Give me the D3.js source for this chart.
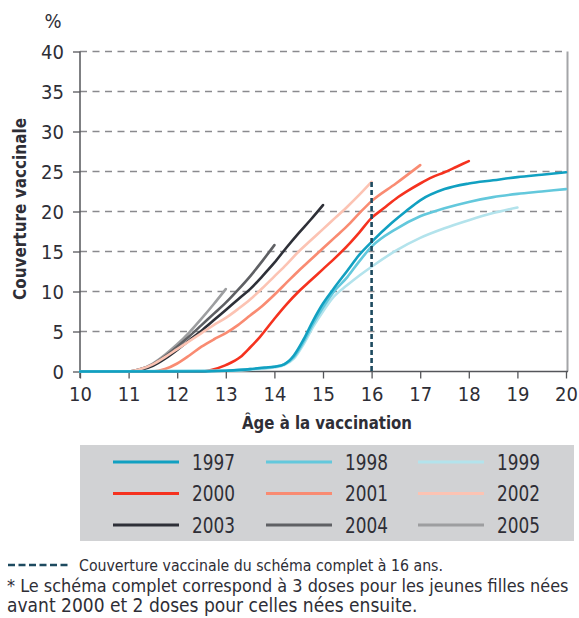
<!DOCTYPE html>
<html><head><meta charset="utf-8">
<script src="https://cdn.jsdelivr.net/npm/d3@7/dist/d3.min.js"></script>
<style>
html,body{margin:0;padding:0;background:#fff;}
svg{display:block;}
text{font-family:"DejaVu Sans Condensed","Liberation Sans Narrow","Arial Narrow",sans-serif;font-stretch:condensed;fill:#2e2e36;}
</style></head><body>
<svg id="c" width="579" height="618"></svg>
<script>
const years = ["1997","1998","1999","2000","2001","2002","2003","2004","2005"];
const colors = ["#11a0c1","#63c8dc","#b3e3ec","#f5321f","#f98b72","#fcc3b3","#2e3038","#5f6064","#9d9ea0"];
const xTicks = [10,11,12,13,14,15,16,17,18,19,20];
const yTicks = [0,5,10,15,20,25,30,35,40];
const ages1997 = [10,12.5,13,13.5,13.8,14,14.2,14.4,14.6,14.8,15,15.2,15.5,15.75,16,16.4,16.7,17,17.5,18,18.5,19,19.5,20];
const vals1997 = [0,0,0.1,0.3,0.5,0.6,0.9,2.0,4.0,6.4,8.5,10.2,12.6,14.6,16.2,18.5,20.0,21.4,22.8,23.5,23.9,24.3,24.6,24.9];
const ages1998 = [10,13,13.5,14,14.2,14.4,14.6,14.8,15,15.2,15.5,15.75,16,16.5,17,17.5,18,18.5,19,19.5,20];
const vals1998 = [0,0.1,0.3,0.6,0.9,1.8,3.7,6.0,8.0,9.8,11.8,13.8,15.6,17.8,19.4,20.4,21.2,21.8,22.2,22.5,22.8];
const ages1999 = [10,13,14,14.2,14.4,14.6,14.8,15,15.2,15.5,15.75,16,16.5,17,17.5,18,18.5,19];
const vals1999 = [0,0.1,0.5,0.8,1.6,3.4,5.6,7.5,9.2,10.8,12.0,13.1,15.1,16.7,17.9,18.9,19.8,20.5];
const ages2000 = [10,12.5,12.7,13,13.3,13.5,13.7,14,14.25,14.5,14.75,15,15.25,15.5,15.75,16,16.25,16.5,16.75,17,17.25,17.5,17.75,18];
const vals2000 = [0,0,0.2,0.8,1.8,3.0,4.3,6.6,8.4,10.0,11.4,12.8,14.2,15.7,17.4,19.2,20.4,21.6,22.6,23.5,24.3,24.9,25.6,26.3];
const ages2001 = [10,11.5,11.75,12,12.25,12.5,12.75,13,13.25,13.5,13.75,14,14.25,14.5,14.75,15,15.25,15.5,15.75,16,16.5,17];
const vals2001 = [0,0,0.3,1.0,2.0,3.1,4.0,4.8,5.8,7.0,8.2,9.6,11.1,12.6,14.0,15.4,16.8,18.2,19.8,21.3,23.5,25.8];
const ages2002 = [10,11,11.25,11.5,11.75,12,12.25,12.5,12.75,13,13.25,13.5,13.75,14,14.25,14.5,14.75,15,15.25,15.5,15.75,16];
const vals2002 = [0,0,0.3,0.9,1.8,2.8,3.8,4.8,5.8,6.7,7.8,9.0,10.4,11.9,13.4,15.0,16.4,17.8,19.2,20.6,22.1,23.7];
const ages2003 = [10,11,11.25,11.5,11.75,12,12.25,12.5,12.75,13,13.25,13.5,13.75,14,14.25,14.5,14.75,15];
const vals2003 = [0,0,0.2,0.7,1.6,2.7,3.9,5.1,6.4,7.7,9.0,10.3,11.9,13.6,15.5,17.3,19.0,20.8];
const ages2004 = [10,11,11.25,11.5,11.75,12,12.25,12.5,12.75,13,13.25,13.5,13.75,14];
const vals2004 = [0,0,0.3,0.9,1.9,3.1,4.4,5.8,7.2,8.6,10.2,11.9,13.8,15.8];
const ages2005 = [10,11,11.25,11.5,11.75,12,12.25,12.5,12.75,13];
const vals2005 = [0,0,0.3,1.0,2.1,3.4,4.9,6.6,8.4,10.3];
const completeAge = 16, completeVal = 23.7;
const footnotes = ["Couverture vaccinale du schéma complet à 16 ans.",
  "* Le schéma complet correspond à 3 doses pour les jeunes filles nées",
  "avant 2000 et 2 doses pour celles nées ensuite."];

const allAges = [ages1997,ages1998,ages1999,ages2000,ages2001,ages2002,ages2003,ages2004,ages2005];
const allVals = [vals1997,vals1998,vals1999,vals2000,vals2001,vals2002,vals2003,vals2004,vals2005];
const series = years.map((y,i)=>({year:y,color:colors[i],pts:allAges[i].map((a,j)=>[a,allVals[i][j]])}));

const FONT = '"DejaVu Sans Condensed","Liberation Sans Narrow","Arial Narrow",sans-serif';
const svg = d3.select("#c");
const x = d3.scaleLinear().domain([10,20]).range([80,566]);
const y = d3.scaleLinear().domain([0,40]).range([371.5,51.5]);

// gridlines
svg.append("g").selectAll("line").data(yTicks.filter(d=>d>0)).join("line")
  .attr("x1",x(10)).attr("x2",x(20)).attr("y1",d=>y(d)).attr("y2",d=>y(d))
  .attr("stroke","#8a8a8e").attr("stroke-width",1.3).attr("stroke-dasharray","7,5.5");

// right border
svg.append("line").attr("x1",x(20)+1.5).attr("x2",x(20)+1.5).attr("y1",y(40)).attr("y2",y(0))
  .attr("stroke","#a4a5a8").attr("stroke-width",2);

// y axis
const yAxis = d3.axisLeft(y).tickValues(yTicks).tickSize(7).tickPadding(9).tickFormat(d3.format("d"));
const gy = svg.append("g").attr("transform",`translate(${x(10)},0)`).call(yAxis);
gy.select(".domain").attr("stroke","#55565a").attr("stroke-width",1.5).attr("d",`M0,${y(40)}V${y(0)+6.5}`);
gy.selectAll(".tick line").attr("stroke","#55565a").attr("stroke-width",1.3);
gy.selectAll(".tick text").attr("font-size",20).attr("fill","#2e2e36").attr("dy","0.36em")
  .style("font-family",FONT);

// x axis
const xAxis = d3.axisBottom(x).tickValues(xTicks).tickSize(7).tickPadding(8).tickFormat(d3.format("d"));
const gx = svg.append("g").attr("transform",`translate(0,${y(0)})`).call(xAxis);
gx.select(".domain").attr("stroke","#55565a").attr("stroke-width",1.5).attr("d",`M${x(10)},0H${x(20)+2}`);
gx.selectAll(".tick line").attr("stroke","#55565a").attr("stroke-width",1.3);
gx.selectAll(".tick text").attr("font-size",20).attr("fill","#2e2e36")
  .style("font-family",FONT);

// curves
const line = d3.line().x(d=>x(d[0])).y(d=>y(d[1])).curve(d3.curveMonotoneX);
svg.append("g").selectAll("path").data(series.slice().reverse()).join("path")
  .attr("d",d=>line(d.pts)).attr("fill","none").attr("stroke",d=>d.color)
  .attr("stroke-width",2.6).attr("stroke-linejoin","round").attr("stroke-linecap","round");

// vertical dashed line at 16
svg.append("line").attr("x1",x(completeAge)).attr("x2",x(completeAge))
  .attr("y1",y(completeVal)).attr("y2",y(0))
  .attr("stroke","#1d4a5f").attr("stroke-width",2.6).attr("stroke-dasharray","5,3");

// titles
svg.append("text").attr("x",53).attr("y",28).attr("text-anchor","middle").attr("font-size",20).text("%");
svg.append("text").attr("transform","translate(26,209) rotate(-90)").attr("text-anchor","middle")
  .attr("font-size",17).attr("font-weight","bold")
  .attr("textLength",182).attr("lengthAdjust","spacingAndGlyphs").text("Couverture vaccinale");
svg.append("text").attr("x",327).attr("y",429).attr("text-anchor","middle")
  .attr("font-size",18).attr("font-weight","bold")
  .attr("textLength",170).attr("lengthAdjust","spacingAndGlyphs").text("Âge à la vaccination");

// legend
svg.append("rect").attr("x",80).attr("y",445).attr("width",494).attr("height",96).attr("fill","#d1d2d4");
const colX = [113,266,418], rowY = [462,493.5,525];
const lg = svg.append("g").selectAll("g").data(series).join("g")
  .attr("transform",(d,i)=>`translate(${colX[i%3]},${rowY[Math.floor(i/3)]})`);
lg.append("line").attr("x1",0).attr("x2",66).attr("stroke",d=>d.color).attr("stroke-width",3.2);
lg.append("text").attr("x",79).attr("y",7.5).attr("font-size",21)
  .attr("textLength",43).attr("lengthAdjust","spacingAndGlyphs").text(d=>d.year);

// footnotes
svg.append("line").attr("x1",8).attr("x2",70).attr("y1",565).attr("y2",565)
  .attr("stroke","#1d4a5f").attr("stroke-width",2.4).attr("stroke-dasharray","7,3.5");
const fnX = [79,7,7], fnY = [571,592,612], fnW = [364,562,416];
footnotes.forEach((t,i)=>{
  const el = svg.append("text").attr("x",fnX[i]).attr("y",fnY[i]).attr("font-size",19).text(t);
  const len = el.node().getComputedTextLength();
  if (len > fnW[i]) el.attr("font-size", 19*fnW[i]/len);
});
</script>
</body></html>
